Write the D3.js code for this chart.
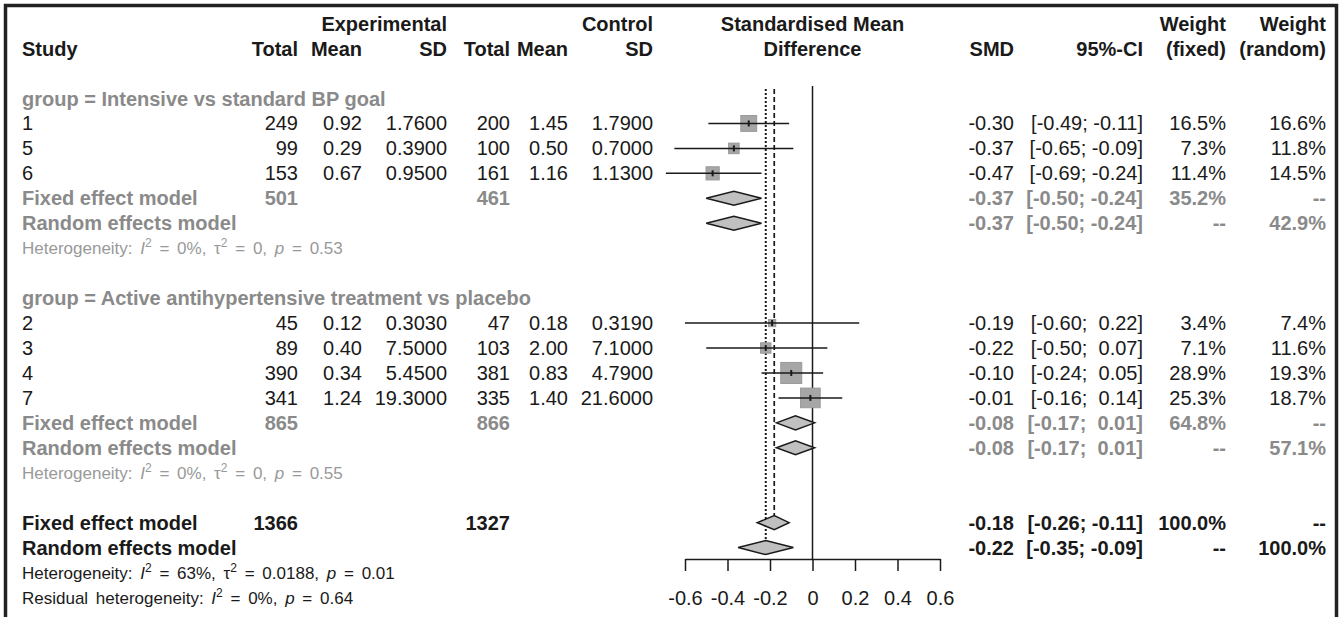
<!DOCTYPE html>
<html>
<head>
<meta charset="utf-8">
<script src="https://cdn.jsdelivr.net/npm/d3@7"></script>
<style>
  body { margin: 0; background: #fff; }
  text { font-family: "Liberation Sans", Arial, sans-serif; white-space: pre; }
</style>
</head>
<body>
<script>
// Subgroups
const groupLabels = ["group = Intensive vs standard BP goal", "group = Active antihypertensive treatment vs placebo"];

// Studies (in plotted order)
const studyIds   = ["1", "5", "6", "2", "3", "4", "7"];
const studyGroup = [0, 0, 0, 1, 1, 1, 1];
const expTotal   = [249, 99, 153, 45, 89, 390, 341];
const expMean    = [0.92, 0.29, 0.67, 0.12, 0.40, 0.34, 1.24];
const expSD      = [1.76, 0.39, 0.95, 0.303, 7.5, 5.45, 19.3];
const ctrlTotal  = [200, 100, 161, 47, 103, 381, 335];
const ctrlMean   = [1.45, 0.50, 1.16, 0.18, 2.00, 0.83, 1.40];
const ctrlSD     = [1.79, 0.70, 1.13, 0.319, 7.10, 4.79, 21.6];
const smd        = [-0.30, -0.37, -0.47, -0.19, -0.22, -0.10, -0.01];
const smdLower   = [-0.49, -0.65, -0.69, -0.60, -0.50, -0.24, -0.16];
const smdUpper   = [-0.11, -0.09, -0.24, 0.22, 0.07, 0.05, 0.14];
const weightFixed  = [16.5, 7.3, 11.4, 3.4, 7.1, 28.9, 25.3];
const weightRandom = [16.6, 11.8, 14.5, 7.4, 11.6, 19.3, 18.7];

// Subgroup summaries
const groupTotalE  = [501, 865];
const groupTotalC  = [461, 866];
const groupSMD     = [-0.37, -0.08];
const groupLower   = [-0.50, -0.17];
const groupUpper   = [-0.24, 0.01];
const groupWFixed  = [35.2, 64.8];
const groupWRandom = [42.9, 57.1];
const groupI2      = ["0%", "0%"];
const groupTau2    = ["0", "0"];
const groupP       = ["0.53", "0.55"];

// Overall summaries
const totalE = 1366, totalC = 1327;
const fixedEst = -0.18, fixedLower = -0.26, fixedUpper = -0.11;
const randomEst = -0.22, randomLower = -0.35, randomUpper = -0.09;
const overallI2 = "63%", overallTau2 = "0.0188", overallP = "0.01";
const residualI2 = "0%", residualP = "0.64";

// Axis ticks
const axisTicks = [-0.6, -0.4, -0.2, 0, 0.2, 0.4, 0.6];

// Chart dimension
const width = 1341;
const height = 617;
const black = "#1a1a1a";
const gray = "#8a8a8a";
const hetGray = "#999999";

const svg = d3.select("body")
    .append("svg")
    .attr("width", width)
    .attr("height", height);

// Frame
svg.append("path")
    .attr("d", "M5.5,700 L5.5,5.5 L1336.5,5.5 L1336.5,700")
    .attr("fill", "none")
    .attr("stroke", "#222")
    .attr("stroke-width", 3.5);

// Scales
const x = d3.scaleLinear().domain([-0.6, 0.6]).range([685, 940]);
const rowY = i => 98.5 + 24.95 * i;
const squareSize = d3.scaleSqrt().domain([0, d3.max(weightFixed)]).range([0, 21]);

const fmt = f => v => d3.format(f)(v).replace("\u2212", "-");
const f2 = fmt(".2f"), f4 = fmt(".4f"), f1 = fmt(".1f");
const ciText = (lo, hi) => `[${lo < 0 ? "" : " "}${f2(lo)}; ${hi < 0 ? "" : " "}${f2(hi)}]`;
const pct = v => v == null ? "--" : f1(v) + "%";

// Column positions
const col = { study: 22, eTotal: 298, eMean: 362, eSD: 447, cTotal: 510, cMean: 568, cSD: 653,
              smd: 1014, ci: 1143, wF: 1226, wR: 1326 };

function cell(y, xPos, str, opt = {}) {
    return svg.append("text")
        .attr("x", xPos)
        .attr("y", y)
        .attr("text-anchor", opt.anchor || "end")
        .attr("font-size", opt.size || 20)
        .attr("font-weight", opt.bold ? "bold" : "normal")
        .attr("fill", opt.color || black)
        .text(str);
}

// Heterogeneity text with italic / superscript parts
function hetText(y, parts, color) {
    const t = svg.append("text")
        .attr("x", col.study)
        .attr("y", y)
        .attr("font-size", 17)
        .attr("word-spacing", 3)
        .attr("fill", color);
    parts.forEach(p => {
        const s = t.append("tspan").text(p[0]);
        if (p[1] === "i") s.attr("font-style", "italic");
        if (p[1] === "sup") s.attr("font-size", 12).attr("dy", -7);
        if (p[1] === "after") s.attr("dy", 7);
    });
}

// Headers
const h1 = 31, h2 = 56;
cell(h1, col.eSD, "Experimental", { bold: true });
cell(h1, col.cSD, "Control", { bold: true });
cell(h1, x(0), "Standardised Mean", { bold: true, anchor: "middle" });
cell(h1, col.wF, "Weight", { bold: true });
cell(h1, col.wR, "Weight", { bold: true });
cell(h2, col.study, "Study", { bold: true, anchor: "start" });
cell(h2, col.eTotal, "Total", { bold: true });
cell(h2, col.eMean, "Mean", { bold: true });
cell(h2, col.eSD, "SD", { bold: true });
cell(h2, col.cTotal, "Total", { bold: true });
cell(h2, col.cMean, "Mean", { bold: true });
cell(h2, col.cSD, "SD", { bold: true });
cell(h2, x(0), "Difference", { bold: true, anchor: "middle" });
cell(h2, col.smd, "SMD", { bold: true });
cell(h2, col.ci, "95%-CI", { bold: true });
cell(h2, col.wF, "(fixed)", { bold: true });
cell(h2, col.wR, "(random)", { bold: true });

// Row layout
let row = 0;
const studyRows = [], groupRows = [];
groupLabels.forEach((g, gi) => {
    const title = row++;
    const idx = studyIds.map((s, i) => i).filter(i => studyGroup[i] === gi);
    idx.forEach(i => { studyRows[i] = row++; });
    groupRows[gi] = { title: title, fixed: row++, random: row++, het: row++ };
    row++;
});
const overallFixedRow = row++;
const overallRandomRow = row++;
const overallHetRow = row++;
const residualRow = row++;

const zeroTop = 86, axisY = 559;

// Reference lines
svg.append("line")
    .attr("x1", x(0)).attr("x2", x(0))
    .attr("y1", zeroTop).attr("y2", axisY)
    .attr("stroke", black).attr("stroke-width", 1.5);

svg.append("line")
    .attr("x1", x(fixedEst)).attr("x2", x(fixedEst))
    .attr("y1", 89).attr("y2", rowY(overallFixedRow) - 7)
    .attr("stroke", black).attr("stroke-width", 1.7)
    .attr("stroke-dasharray", "5,3");

svg.append("line")
    .attr("x1", x(randomEst)).attr("x2", x(randomEst))
    .attr("y1", 89).attr("y2", rowY(overallRandomRow) - 7)
    .attr("stroke", black).attr("stroke-width", 2)
    .attr("stroke-dasharray", "2,2");

function diamond(y, est, lo, hi) {
    svg.append("polygon")
        .attr("points", [[x(lo), y], [x(est), y - 7], [x(hi), y], [x(est), y + 7]].map(p => p.join(",")).join(" "))
        .attr("fill", "#c0c0c0")
        .attr("stroke", black)
        .attr("stroke-width", 1.5);
}

// Subgroups
groupLabels.forEach((g, gi) => {
    const r = groupRows[gi];
    cell(rowY(r.title) + 7, col.study, g, { bold: true, anchor: "start", color: gray });

    const fy = rowY(r.fixed), ry = rowY(r.random);
    cell(fy + 7, col.study, "Fixed effect model", { bold: true, anchor: "start", color: gray });
    cell(fy + 7, col.eTotal, groupTotalE[gi], { bold: true, color: gray });
    cell(fy + 7, col.cTotal, groupTotalC[gi], { bold: true, color: gray });
    cell(fy + 7, col.smd, f2(groupSMD[gi]), { bold: true, color: gray });
    cell(fy + 7, col.ci, ciText(groupLower[gi], groupUpper[gi]), { bold: true, color: gray });
    cell(fy + 7, col.wF, pct(groupWFixed[gi]), { bold: true, color: gray });
    cell(fy + 7, col.wR, "--", { bold: true, color: gray });
    diamond(fy, groupSMD[gi], groupLower[gi], groupUpper[gi]);

    cell(ry + 7, col.study, "Random effects model", { bold: true, anchor: "start", color: gray });
    cell(ry + 7, col.smd, f2(groupSMD[gi]), { bold: true, color: gray });
    cell(ry + 7, col.ci, ciText(groupLower[gi], groupUpper[gi]), { bold: true, color: gray });
    cell(ry + 7, col.wF, "--", { bold: true, color: gray });
    cell(ry + 7, col.wR, pct(groupWRandom[gi]), { bold: true, color: gray });
    diamond(ry, groupSMD[gi], groupLower[gi], groupUpper[gi]);

    hetText(rowY(r.het) + 6, [["Heterogeneity: ", ""], ["I", "i"], ["2", "sup"],
        [" = " + groupI2[gi] + ", ", "after"], ["\u03c4", ""], ["2", "sup"],
        [" = " + groupTau2[gi] + ", ", "after"], ["p", "i"], [" = " + groupP[gi], ""]], hetGray);
});

// Studies
studyIds.forEach((s, i) => {
    const y = rowY(studyRows[i]);
    cell(y + 7, col.study, s, { anchor: "start" });
    cell(y + 7, col.eTotal, expTotal[i]);
    cell(y + 7, col.eMean, f2(expMean[i]));
    cell(y + 7, col.eSD, f4(expSD[i]));
    cell(y + 7, col.cTotal, ctrlTotal[i]);
    cell(y + 7, col.cMean, f2(ctrlMean[i]));
    cell(y + 7, col.cSD, f4(ctrlSD[i]));
    cell(y + 7, col.smd, f2(smd[i]));
    cell(y + 7, col.ci, ciText(smdLower[i], smdUpper[i]));
    cell(y + 7, col.wF, pct(weightFixed[i]));
    cell(y + 7, col.wR, pct(weightRandom[i]));

    const side = squareSize(weightFixed[i]);
    svg.append("rect")
        .attr("x", x(smd[i]) - side / 2)
        .attr("y", y - side / 2)
        .attr("width", side)
        .attr("height", side)
        .attr("fill", "#a6a6a6")
        .attr("stroke", "#9a9a9a")
        .attr("stroke-width", 1);
    svg.append("line")
        .attr("x1", x(smdLower[i])).attr("x2", x(smdUpper[i]))
        .attr("y1", y).attr("y2", y)
        .attr("stroke", black).attr("stroke-width", 1.5);
    svg.append("line")
        .attr("x1", x(smd[i])).attr("x2", x(smd[i]))
        .attr("y1", y - 3).attr("y2", y + 3)
        .attr("stroke", black).attr("stroke-width", 2);
});

// Overall
const oy = rowY(overallFixedRow), ory = rowY(overallRandomRow);
cell(oy + 7, col.study, "Fixed effect model", { bold: true, anchor: "start" });
cell(oy + 7, col.eTotal, totalE, { bold: true });
cell(oy + 7, col.cTotal, totalC, { bold: true });
cell(oy + 7, col.smd, f2(fixedEst), { bold: true });
cell(oy + 7, col.ci, ciText(fixedLower, fixedUpper), { bold: true });
cell(oy + 7, col.wF, "100.0%", { bold: true });
cell(oy + 7, col.wR, "--", { bold: true });
diamond(oy, fixedEst, fixedLower, fixedUpper);

cell(ory + 7, col.study, "Random effects model", { bold: true, anchor: "start" });
cell(ory + 7, col.smd, f2(randomEst), { bold: true });
cell(ory + 7, col.ci, ciText(randomLower, randomUpper), { bold: true });
cell(ory + 7, col.wF, "--", { bold: true });
cell(ory + 7, col.wR, "100.0%", { bold: true });
diamond(ory, randomEst, randomLower, randomUpper);

hetText(rowY(overallHetRow) + 6, [["Heterogeneity: ", ""], ["I", "i"], ["2", "sup"],
    [" = " + overallI2 + ", ", "after"], ["\u03c4", ""], ["2", "sup"],
    [" = " + overallTau2 + ", ", "after"], ["p", "i"], [" = " + overallP, ""]], black);
hetText(rowY(residualRow) + 6, [["Residual heterogeneity: ", ""], ["I", "i"], ["2", "sup"],
    [" = " + residualI2 + ", ", "after"], ["p", "i"], [" = " + residualP, ""]], black);

// Axis
const axis = svg.append("g")
    .attr("transform", `translate(0, ${axisY})`)
    .call(d3.axisBottom(x)
        .tickValues(axisTicks)
        .tickSize(12)
        .tickSizeOuter(0)
        .tickFormat(d => d === 0 ? "0" : f1(d)));
axis.selectAll("path, line").attr("stroke", black).attr("stroke-width", 1.5);
axis.selectAll("text")
    .attr("y", 32)
    .attr("fill", black)
    .attr("font-size", 20)
    .attr("font-family", "'Liberation Sans', Arial, sans-serif");
</script>
</body>
</html>
